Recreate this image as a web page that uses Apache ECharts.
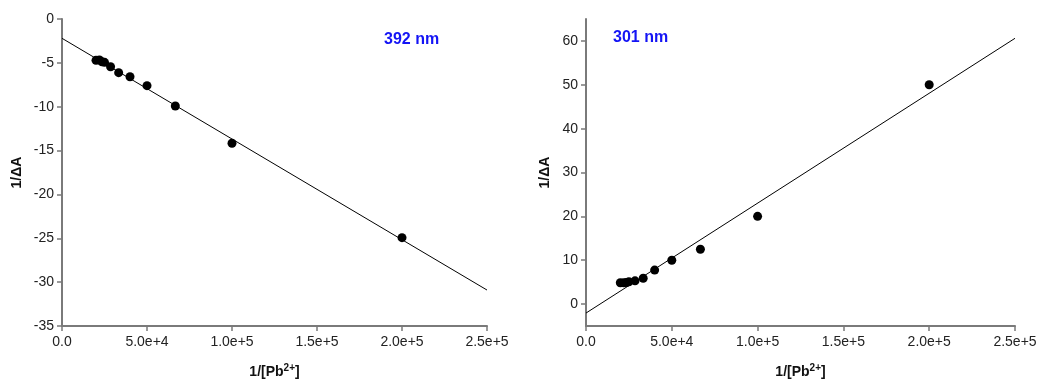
<!DOCTYPE html>
<html>
<head>
<meta charset="utf-8">
<script src="https://cdn.jsdelivr.net/npm/echarts@6/dist/echarts.min.js"></script>
<style>
html,body{margin:0;padding:0;background:#fff;}
#c{width:1039px;height:379px;}
</style>
</head>
<body>
<div id="c"></div>
<script>
// 1/[Pb2+] values (x)
var xValues = [20000, 22000, 23500, 25000, 28571, 33333, 40000, 50000, 66667, 100000, 200000];
// 1/ΔA at 392 nm
var y392 = [-4.71, -4.67, -4.87, -4.94, -5.44, -6.12, -6.58, -7.60, -9.92, -14.17, -24.93];
// 1/ΔA at 301 nm
var y301 = [4.85, 4.85, 4.9, 5.1, 5.3, 5.9, 7.75, 10.0, 12.5, 20.0, 50.0];
// linear fit end points
var fitX = [0, 250000];
var fit392 = [-2.2, -30.9];
var fit301 = [-2.05, 60.6];
// tick labels
var xTicks = [0, 50000, 100000, 150000, 200000, 250000];
var yTicks301 = [0, 10, 20, 30, 40, 50, 60];
var panelLabels = ['392 nm', '301 nm'];

var FONT = "'Liberation Sans', Arial, Helvetica, sans-serif";
var AXIS_COLOR = '#7a7a7a';

function pairs(xs, ys) { return xs.map(function (x, i) { return [x, ys[i]]; }); }
function xFmt(v) { return v === 0 ? '0.0' : v.toExponential(1); }

function xAxisCfg(gi) {
  return {
    type: 'value', gridIndex: gi, min: 0, max: 250000, interval: 50000,
    name: '{a|1/[Pb}{s|2+}{a|]}', nameLocation: 'middle', nameGap: 37,
    nameTextStyle: {
      rich: {
        a: { fontFamily: FONT, fontWeight: 'bold', fontSize: 14, color: '#111', verticalAlign: 'bottom', lineHeight: 16 },
        s: { fontFamily: FONT, fontWeight: 'bold', fontSize: 10, color: '#111', verticalAlign: 'top', lineHeight: 16, padding: [0, 0, 8, 0] }
      }
    },
    axisLine: { onZero: false, lineStyle: { color: AXIS_COLOR, width: 2 } },
    axisTick: { show: true, length: 5, lineStyle: { color: AXIS_COLOR, width: 1.5 } },
    axisLabel: { formatter: xFmt, fontFamily: FONT, fontSize: 14, color: '#222', margin: 9 },
    splitLine: { show: false }
  };
}

var option = {
  animation: false,
  backgroundColor: '#fff',
  grid: [
    { left: 62, top: 19, width: 425, height: 307, containLabel: false, outerBoundsMode: 'none' },
    { left: 586, top: 19, width: 429, height: 307, containLabel: false, outerBoundsMode: 'none' }
  ],
  xAxis: [xAxisCfg(0), xAxisCfg(1)],
  yAxis: [
    {
      type: 'value', gridIndex: 0, min: -35, max: 0, interval: 5,
      name: '1/ΔA', nameLocation: 'middle', nameGap: 38,
      nameTextStyle: { fontFamily: FONT, fontWeight: 'bold', fontSize: 14, color: '#111' },
      axisLine: { onZero: false, lineStyle: { color: AXIS_COLOR, width: 2 } },
      axisTick: { length: 5, lineStyle: { color: AXIS_COLOR, width: 1.5 } },
      axisLabel: { fontFamily: FONT, fontSize: 14, color: '#222', margin: 8 },
      splitLine: { show: false }
    },
    {
      type: 'value', gridIndex: 1, min: -5, max: 65,
      name: '1/ΔA', nameLocation: 'middle', nameGap: 34,
      nameTextStyle: { fontFamily: FONT, fontWeight: 'bold', fontSize: 14, color: '#111' },
      axisLine: { onZero: false, lineStyle: { color: AXIS_COLOR, width: 2 } },
      axisTick: { length: 5, customValues: yTicks301, lineStyle: { color: AXIS_COLOR, width: 1.5 } },
      axisLabel: { customValues: yTicks301, fontFamily: FONT, fontSize: 14, color: '#222', margin: 8 },
      splitLine: { show: false }
    }
  ],
  graphic: [
    { type: 'text', left: 384, top: 32, style: { text: panelLabels[0], font: 'bold 16px ' + FONT, fill: '#1414f5' } },
    { type: 'text', left: 613, top: 30, style: { text: panelLabels[1], font: 'bold 16px ' + FONT, fill: '#1414f5' } }
  ],
  series: [
    { type: 'line', xAxisIndex: 0, yAxisIndex: 0, data: pairs(fitX, fit392), showSymbol: false, lineStyle: { color: '#000', width: 1 }, silent: true },
    { type: 'scatter', xAxisIndex: 0, yAxisIndex: 0, data: pairs(xValues, y392), symbolSize: 9, itemStyle: { color: '#000', opacity: 1 } },
    { type: 'line', xAxisIndex: 1, yAxisIndex: 1, data: pairs(fitX, fit301), showSymbol: false, lineStyle: { color: '#000', width: 1 }, silent: true },
    { type: 'scatter', xAxisIndex: 1, yAxisIndex: 1, data: pairs(xValues, y301), symbolSize: 9, itemStyle: { color: '#000', opacity: 1 } }
  ]
};

var chart = echarts.init(document.getElementById('c'), null, { renderer: 'canvas' });
chart.setOption(option);
</script>
</body>
</html>
